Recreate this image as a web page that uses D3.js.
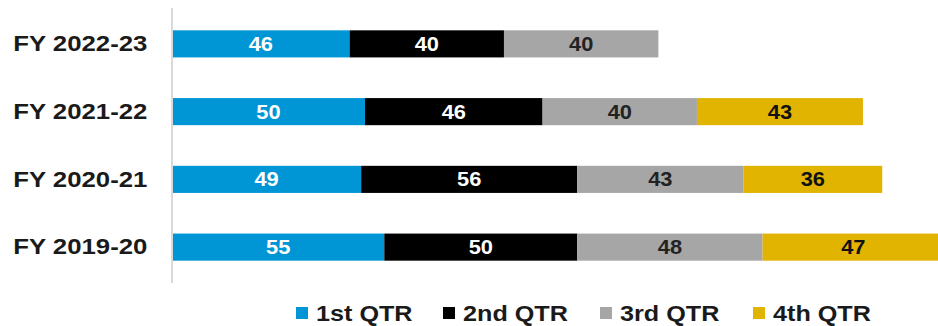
<!DOCTYPE html>
<html>
<head>
<meta charset="utf-8">
<script src="https://cdn.jsdelivr.net/npm/d3@7"></script>
<style>
  body { margin: 0; background: #fff; }
  svg text { font-family: "Liberation Sans", Arial, sans-serif; font-weight: bold; }
</style>
</head>
<body>
<div id="chart"></div>
<script>
// data
var years = ['FY 2022-23', 'FY 2021-22', 'FY 2020-21', 'FY 2019-20'];
var quarters = ['1st QTR', '2nd QTR', '3rd QTR', '4th QTR'];
var q1 = [46, 50, 49, 55];
var q2 = [40, 46, 56, 50];
var q3 = [40, 40, 43, 48];
var q4 = [null, 43, 36, 47];

var colors = ['#0096d6', '#000000', '#a6a6a6', '#e0b400'];
var labelColors = ['#ffffff', '#ffffff', '#222222', '#111111'];

var width = 938, height = 326;
// the source picture is a bit wide, so text is stretched horizontally
var stretch = 'scale(1.12,1)';

var rows = years.map(function(y, i) {
  return { year: y, q1: q1[i] || 0, q2: q2[i] || 0, q3: q3[i] || 0, q4: q4[i] || 0 };
});
var keys = ['q1', 'q2', 'q3', 'q4'];
var stacked = d3.stack().keys(keys)(rows);

var x = d3.scaleLinear().domain([0, 200]).range([172, 944]);
var y = d3.scaleBand().domain(years).range([10, 281]).paddingInner(0.6).paddingOuter(0.3);

var svg = d3.select('#chart').append('svg')
  .attr('width', width)
  .attr('height', height);

// bars
var layer = svg.selectAll('g.layer')
  .data(stacked)
  .enter().append('g')
  .attr('class', 'layer')
  .attr('fill', function(d, i) { return colors[i]; });

layer.selectAll('rect')
  .data(function(d) { return d.filter(function(p) { return p[1] > p[0]; }); })
  .enter().append('rect')
  .attr('x', function(d) { return x(d[0]); })
  .attr('y', function(d) { return y(d.data.year); })
  .attr('width', function(d) { return x(d[1]) - x(d[0]); })
  .attr('height', y.bandwidth());

// value labels
stacked.forEach(function(s, i) {
  svg.append('g').selectAll('text')
    .data(s.filter(function(d) { return d[1] > d[0]; }))
    .enter().append('text')
    .attr('transform', function(d) {
      var cx = (x(d[0]) + x(d[1])) / 2;
      var cy = y(d.data.year) + y.bandwidth() / 2;
      return 'translate(' + cx + ',' + cy + ') ' + stretch;
    })
    .attr('dy', '0.36em')
    .attr('text-anchor', 'middle')
    .attr('fill', labelColors[i])
    .style('font-size', '19.5px')
    .text(function(d) { return d[1] - d[0]; });
});

// category axis
var axis = svg.append('g')
  .attr('transform', 'translate(' + x(0) + ',0)')
  .call(d3.axisLeft(y).tickSize(0).tickPadding(22));
axis.select('.domain').attr('stroke', '#d9d9d9').attr('stroke-width', 2)
  .attr('d', 'M0,8V283');
axis.selectAll('text')
  .attr('fill', '#1a1a1a')
  .attr('transform', stretch)
  .style('font-size', '23px')
  .style('font-family', '"Liberation Sans", Arial, sans-serif')
  .style('font-weight', 'bold');

// legend
var legendX = [296, 443, 600, 753];
var legend = svg.append('g').selectAll('g')
  .data(quarters)
  .enter().append('g')
  .attr('transform', function(d, i) { return 'translate(' + legendX[i] + ',313)'; });

legend.append('rect')
  .attr('x', 0).attr('y', -6)
  .attr('width', 12).attr('height', 12)
  .attr('fill', function(d, i) { return colors[i]; });

legend.append('text')
  .attr('transform', 'translate(20,0) ' + stretch)
  .attr('dy', '0.34em')
  .attr('fill', '#1a1a1a')
  .style('font-size', '22.5px')
  .text(function(d) { return d; });
</script>
</body>
</html>
